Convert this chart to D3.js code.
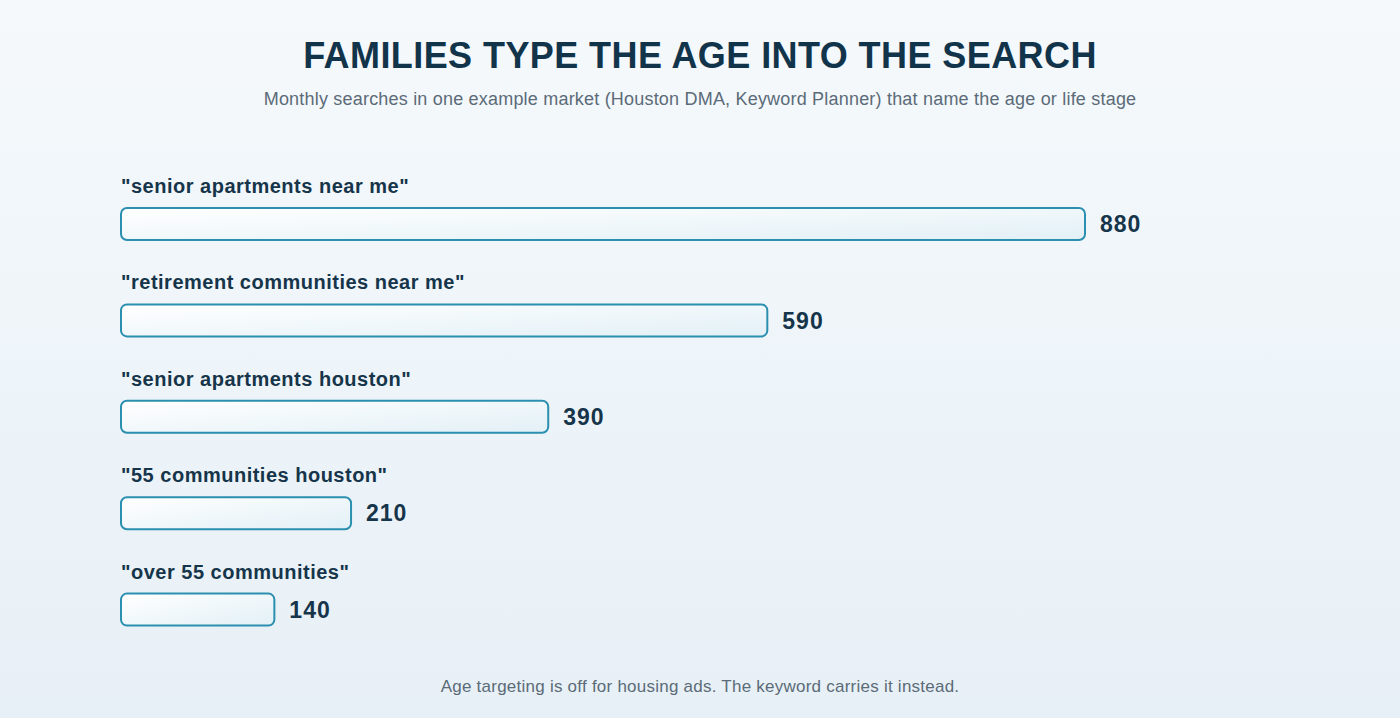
<!DOCTYPE html>
<html>
<head>
<meta charset="utf-8">
<script src="https://cdn.jsdelivr.net/npm/d3@7"></script>
<style>
html,body{margin:0;padding:0;}
body{width:1400px;height:718px;overflow:hidden;background:linear-gradient(180deg,#f5f9fc 0%,#e7f0f6 100%);font-family:"Liberation Sans",Arial,Helvetica,sans-serif;}
</style>
</head>
<body>
<svg id="chart" width="1400" height="718"></svg>
<script>
const categories = ['"senior apartments near me"','"retirement communities near me"','"senior apartments houston"','"55 communities houston"','"over 55 communities"'];
const searches = [880, 590, 390, 210, 140];
const titleText = "FAMILIES TYPE THE AGE INTO THE SEARCH";
const subtitleText = "Monthly searches in one example market (Houston DMA, Keyword Planner) that name the age or life stage";
const footerText = "Age targeting is off for housing ads. The keyword carries it instead.";

const svg = d3.select("#chart");
const defs = svg.append("defs");
const grad = defs.append("linearGradient").attr("id","barGrad")
  .attr("x1","0%").attr("y1","0%").attr("x2","100%").attr("y2","100%");
grad.append("stop").attr("offset","0%").attr("stop-color","#ffffff");
grad.append("stop").attr("offset","100%").attr("stop-color","#e2f0f6");

svg.append("text").attr("x",700).attr("y",68).attr("text-anchor","middle")
  .attr("font-size",36).attr("font-weight","bold").attr("letter-spacing",0.42)
  .attr("fill","#12344a").text(titleText);
svg.append("text").attr("x",700).attr("y",105).attr("text-anchor","middle")
  .attr("font-size",18).attr("letter-spacing",0.2).attr("fill","#5b6b78").text(subtitleText);
svg.append("text").attr("x",700).attr("y",692).attr("text-anchor","middle")
  .attr("font-size",17).attr("letter-spacing",0.24).attr("fill","#5b6b78").text(footerText);

const x = d3.scaleLinear().domain([0,880]).range([121,1085]);
const y = d3.scaleBand().domain(categories).range([160,642]).paddingInner(0).paddingOuter(0);

const rows = svg.append("g").selectAll("g").data(categories).join("g")
  .attr("transform", d => `translate(0,${y(d)})`);

rows.append("text").attr("x",121).attr("y",33)
  .attr("font-size",20).attr("font-weight","bold").attr("letter-spacing",0.5).attr("fill","#16354a")
  .text(d => d);

rows.append("rect")
  .attr("x", x(0))
  .attr("y", 48)
  .attr("width", (d,i) => x(searches[i]) - x(0))
  .attr("height", 32)
  .attr("rx", 6).attr("ry", 6)
  .attr("fill","url(#barGrad)")
  .attr("stroke","#2b8fb0").attr("stroke-width",2);

rows.append("text")
  .attr("x", (d,i) => x(searches[i]) + 15)
  .attr("y", 64).attr("dy","0.36em")
  .attr("font-size",23).attr("font-weight","bold").attr("letter-spacing",1).attr("fill","#16354a")
  .text((d,i) => searches[i]);
</script>
</body>
</html>
